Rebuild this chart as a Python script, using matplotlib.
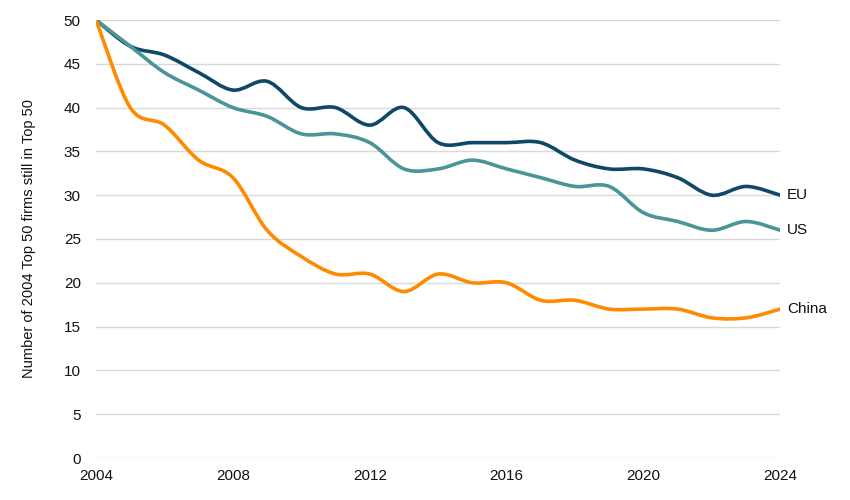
import matplotlib.pyplot as plt
from matplotlib.path import Path
from matplotlib.patches import PathPatch

plt.rcParams['font.family'] = ['Liberation Sans', 'DejaVu Sans']

years = list(range(2004, 2025))
eu = [50, 47, 46, 44, 42, 43, 40, 40, 38, 40, 36, 36, 36, 36, 34, 33, 33, 32, 30, 31, 30]
us = [50, 47, 44, 42, 40, 39, 37, 37, 36, 33, 33, 34, 33, 32, 31, 31, 28, 27, 26, 27, 26]
china = [50, 40, 38, 34, 32, 26, 23, 21, 21, 19, 21, 20, 20, 18, 18, 17, 17, 17, 16, 16, 17]

series = [('EU', eu, '#0e4866'), ('US', us, '#4b9497'), ('China', china, '#ff8a00')]


def smooth_path(x, y):
    # Excel-style smoothed line: cubic Bezier through each point
    pts = list(zip(x, y))
    verts = [pts[0]]
    codes = [Path.MOVETO]
    n = len(pts)
    for i in range(n - 1):
        p0 = pts[i - 1] if i > 0 else pts[i]
        p1 = pts[i]
        p2 = pts[i + 1]
        p3 = pts[i + 2] if i + 2 < n else pts[i + 1]
        c1 = (p1[0] + (p2[0] - p0[0]) / 6, p1[1] + (p2[1] - p0[1]) / 6)
        c2 = (p2[0] - (p3[0] - p1[0]) / 6, p2[1] - (p3[1] - p1[1]) / 6)
        verts += [c1, c2, p2]
        codes += [Path.CURVE4] * 3
    return Path(verts, codes)


fig = plt.figure(figsize=(8.5, 5), dpi=100)
ax = fig.add_axes([0.113, 0.084, 0.805, 0.876])

for name, vals, col in series:
    ax.add_patch(PathPatch(smooth_path(years, vals), fill=False, edgecolor=col,
                           lw=2.6, capstyle='round', joinstyle='round', zorder=3))
    ax.text(2024.2, vals[-1], name, va='center', ha='left', fontsize=11, color='#111111')

ax.set_xlim(2004, 2024)
ax.set_ylim(0, 50)
ax.set_xticks(range(2004, 2025, 4))
ax.set_yticks(range(0, 51, 5))
ax.grid(axis='y', color='#d9d9d9', lw=1)
ax.set_axisbelow(True)
for s in ax.spines.values():
    s.set_visible(False)
ax.tick_params(length=0, labelsize=11, colors='#111111')
ax.tick_params(axis='y', pad=11)
ax.tick_params(axis='x', pad=8)
ax.set_ylabel('Number of 2004 Top 50 firms still in Top 50', fontsize=10.5, color='#111111', labelpad=20)

fig.savefig('out.png', dpi=100)
